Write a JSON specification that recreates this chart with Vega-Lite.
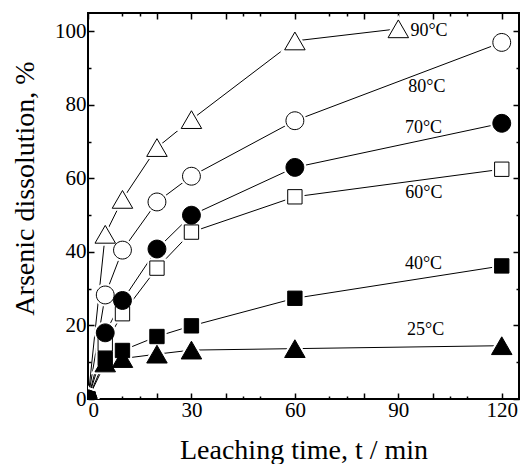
{
  "$schema": "https://vega.github.io/schema/vega-lite/v6.json",
  "width": 431,
  "height": 386,
  "autosize": {"type": "none"},
  "padding": {"left": 88, "top": 13, "right": 2, "bottom": 65},
  "background": "white",
  "config": {
    "view": {"stroke": "black", "strokeWidth": 2},
    "font": "Liberation Serif",
    "text": {"font": "Liberation Serif"},
    "axis": {
      "grid": false,
      "domain": false,
      "tickColor": "black",
      "tickWidth": 1.5,
      "labelFont": "Liberation Serif",
      "labelFontSize": 21,
      "labelColor": "black",
      "titleFont": "Liberation Serif",
      "titleFontSize": 28,
      "titleFontWeight": "normal",
      "titleColor": "black"
    }
  },
  "datasets": {
    "series": [
      {"series": "60°C", "t": 0, "value": 0},
      {"series": "60°C", "t": 5, "value": 15},
      {"series": "60°C", "t": 10, "value": 23.2},
      {"series": "60°C", "t": 20, "value": 35.6},
      {"series": "60°C", "t": 30, "value": 45.4},
      {"series": "60°C", "t": 60, "value": 55},
      {"series": "60°C", "t": 120, "value": 62.5},
      {"series": "80°C", "t": 0, "value": 0},
      {"series": "80°C", "t": 5, "value": 28.3},
      {"series": "80°C", "t": 10, "value": 40.5},
      {"series": "80°C", "t": 20, "value": 53.6},
      {"series": "80°C", "t": 30, "value": 60.6},
      {"series": "80°C", "t": 60, "value": 75.7},
      {"series": "80°C", "t": 120, "value": 97},
      {"series": "90°C", "t": 0, "value": 0},
      {"series": "90°C", "t": 5, "value": 44.8},
      {"series": "90°C", "t": 10, "value": 54.3},
      {"series": "90°C", "t": 20, "value": 68.4},
      {"series": "90°C", "t": 30, "value": 76},
      {"series": "90°C", "t": 60, "value": 97.4},
      {"series": "90°C", "t": 90, "value": 100.7},
      {"series": "70°C", "t": 0, "value": 0},
      {"series": "70°C", "t": 5, "value": 18},
      {"series": "70°C", "t": 10, "value": 26.8},
      {"series": "70°C", "t": 20, "value": 40.8},
      {"series": "70°C", "t": 30, "value": 50},
      {"series": "70°C", "t": 60, "value": 63},
      {"series": "70°C", "t": 120, "value": 75},
      {"series": "25°C", "t": 0, "value": 0},
      {"series": "25°C", "t": 5, "value": 9.8},
      {"series": "25°C", "t": 10, "value": 11},
      {"series": "25°C", "t": 20, "value": 12.2},
      {"series": "25°C", "t": 30, "value": 13.3},
      {"series": "25°C", "t": 60, "value": 13.7},
      {"series": "25°C", "t": 120, "value": 14.5},
      {"series": "40°C", "t": 0, "value": 0},
      {"series": "40°C", "t": 5, "value": 11},
      {"series": "40°C", "t": 10, "value": 13.2},
      {"series": "40°C", "t": 20, "value": 17},
      {"series": "40°C", "t": 30, "value": 19.9},
      {"series": "40°C", "t": 60, "value": 27.4},
      {"series": "40°C", "t": 120, "value": 36.2}
    ],
    "labels": [
      {"label": "90°C", "t": 98.9, "value": 100},
      {"label": "80°C", "t": 98.3, "value": 85},
      {"label": "70°C", "t": 97.3, "value": 73.8},
      {"label": "60°C", "t": 97.4, "value": 56},
      {"label": "40°C", "t": 97.3, "value": 36.7},
      {"label": "25°C", "t": 97.9, "value": 18.8}
    ]
  },
  "resolve": {"axis": {"x": "independent", "y": "independent"}},
  "layer": [
    {
      "data": {"name": "series"},
      "mark": {"type": "line", "color": "black", "strokeWidth": 1, "clip": true},
      "encoding": {
        "x": {
          "field": "t", "type": "quantitative",
          "scale": {"domain": [0, 125], "nice": false, "zero": false},
          "axis": {
            "orient": "bottom",
            "values": [0, 20, 30, 40, 60, 80, 90, 100, 120],
            "labelExpr": "datum.value % 30 == 0 ? datum.label : ''",
            "tickSize": -6,
            "labelPadding": 6,
            "labelFont": "Liberation Serif",
            "labelFontSize": 21,
            "title": "Leaching time, t / min",
            "titleFont": "Liberation Serif",
            "titleFontSize": 28,
            "titleFontWeight": "normal",
            "titleY": 59,
            "titleBaseline": "alphabetic"
          }
        },
        "y": {
          "field": "value", "type": "quantitative",
          "scale": {"domain": [0, 105], "nice": false, "zero": false},
          "axis": {
            "orient": "left",
            "values": [0, 20, 40, 60, 80, 100],
            "tickSize": -6,
            "labelPadding": 8,
            "labelFont": "Liberation Serif",
            "labelFontSize": 21,
            "title": "Arsenic dissolution, %",
            "titleFont": "Liberation Serif",
            "titleFontSize": 28,
            "titleFontWeight": "normal",
            "titleX": -55,
            "titleY": 175,
            "titleBaseline": "alphabetic"
          }
        },
        "detail": {"field": "series"},
        "order": {"field": "t"}
      }
    },
    {
      "data": {"name": "series"},
      "mark": {"type": "point", "filled": true, "opacity": 1, "fill": "white", "stroke": "white", "strokeWidth": 5, "size": 420, "clip": true},
      "encoding": {
        "x": {
          "field": "t", "type": "quantitative",
          "axis": {"orient": "top", "values": [0, 20, 30, 40, 60, 80, 90, 100, 120], "tickSize": -6, "labels": false, "title": null}
        },
        "y": {
          "field": "value", "type": "quantitative",
          "axis": {"orient": "right", "values": [0, 20, 40, 60, 80, 100], "tickSize": -6, "labels": false, "title": null}
        },
        "shape": {
          "field": "series", "type": "nominal", "legend": null,
          "scale": {
            "domain": ["25°C", "40°C", "60°C", "70°C", "80°C", "90°C"],
            "range": [
              "M0,-0.866L1,0.866L-1,0.866Z",
              "M-0.7,-0.7H0.7V0.7H-0.7Z",
              "M-0.7,-0.7H0.7V0.7H-0.7Z",
              "M0.87,0A0.87,0.87,0,1,0,-0.87,0A0.87,0.87,0,1,0,0.87,0Z",
              "M0.87,0A0.87,0.87,0,1,0,-0.87,0A0.87,0.87,0,1,0,0.87,0Z",
              "M0,-0.866L1,0.866L-1,0.866Z"
            ]
          }
        }
      }
    },
    {
      "data": {"name": "series"},
      "mark": {"type": "point", "filled": true, "opacity": 1, "stroke": "black", "strokeWidth": 1, "size": 420, "clip": true},
      "encoding": {
        "x": {
          "field": "t", "type": "quantitative",
          "axis": {"orient": "bottom", "values": [10, 15, 45, 50, 70, 75, 105, 110], "tickSize": -3, "labels": false, "title": null}
        },
        "y": {
          "field": "value", "type": "quantitative",
          "axis": {"orient": "left", "values": [10, 30, 50, 70, 90], "tickSize": -3, "labels": false, "title": null}
        },
        "shape": {
          "field": "series", "type": "nominal", "legend": null,
          "scale": {
            "domain": ["25°C", "40°C", "60°C", "70°C", "80°C", "90°C"],
            "range": [
              "M0,-0.866L1,0.866L-1,0.866Z",
              "M-0.7,-0.7H0.7V0.7H-0.7Z",
              "M-0.7,-0.7H0.7V0.7H-0.7Z",
              "M0.87,0A0.87,0.87,0,1,0,-0.87,0A0.87,0.87,0,1,0,0.87,0Z",
              "M0.87,0A0.87,0.87,0,1,0,-0.87,0A0.87,0.87,0,1,0,0.87,0Z",
              "M0,-0.866L1,0.866L-1,0.866Z"
            ]
          }
        },
        "fill": {
          "field": "series", "type": "nominal", "legend": null,
          "scale": {
            "domain": ["25°C", "40°C", "60°C", "70°C", "80°C", "90°C"],
            "range": ["black", "black", "white", "black", "white", "white"]
          }
        }
      }
    },
    {
      "data": {"name": "labels"},
      "mark": {"type": "text", "font": "Liberation Serif", "fontSize": 18, "color": "black", "align": "center", "baseline": "middle"},
      "encoding": {
        "x": {
          "field": "t", "type": "quantitative",
          "axis": {"orient": "top", "values": [10, 15, 45, 50, 70, 75, 105, 110], "tickSize": -3, "labels": false, "title": null}
        },
        "y": {
          "field": "value", "type": "quantitative",
          "axis": {"orient": "right", "values": [10, 30, 50, 70, 90], "tickSize": -3, "labels": false, "title": null}
        },
        "text": {"field": "label"}
      }
    }
  ]
}
